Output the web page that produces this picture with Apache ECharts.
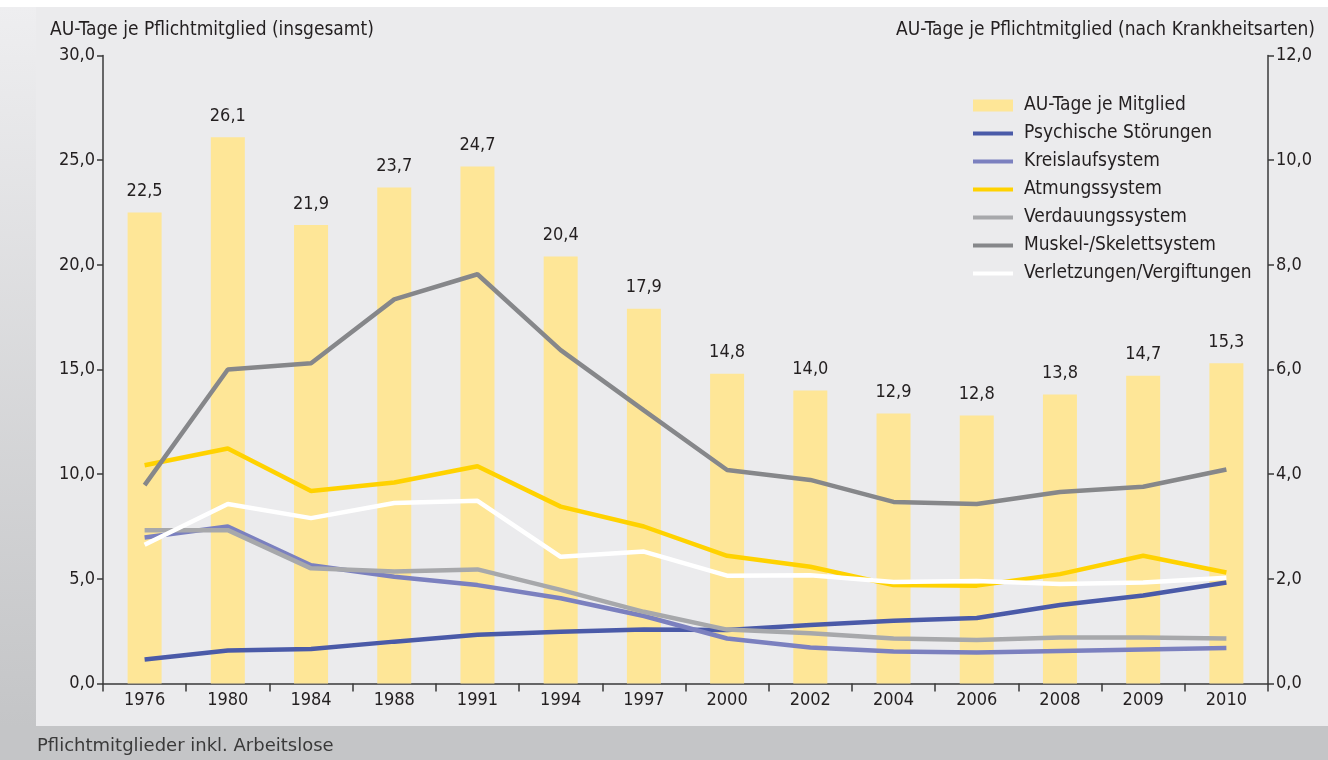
<!DOCTYPE html>
<html>
<head>
<meta charset="utf-8">
<script src="https://cdn.jsdelivr.net/npm/echarts@6/dist/echarts.min.js"></script>
<style>
    html, body { margin: 0; padding: 0; background: #ffffff; }
    #chart { width: 1328px; height: 760px; }
</style>
</head>
<body>
<div id="chart"></div>
<script>
const years = ['1976', '1980', '1984', '1988', '1991', '1994', '1997', '2000', '2002', '2004', '2006', '2008', '2009', '2010'];
const auTage = [22.5, 26.1, 21.9, 23.7, 24.7, 20.4, 17.9, 14.8, 14.0, 12.9, 12.8, 13.8, 14.7, 15.3];
const psychisch = [0.46, 0.63, 0.66, 0.80, 0.93, 0.99, 1.03, 1.02, 1.12, 1.20, 1.25, 1.50, 1.68, 1.93];
const kreislauf = [2.79, 3.00, 2.26, 2.04, 1.88, 1.63, 1.29, 0.86, 0.69, 0.61, 0.59, 0.62, 0.65, 0.68];
const atmung = [4.17, 4.49, 3.68, 3.84, 4.15, 3.38, 3.00, 2.44, 2.23, 1.88, 1.87, 2.09, 2.44, 2.12];
const verdauung = [2.93, 2.93, 2.20, 2.14, 2.18, 1.79, 1.37, 1.03, 0.96, 0.86, 0.83, 0.88, 0.88, 0.86];
const muskel = [3.79, 6.00, 6.12, 7.34, 7.82, 6.37, 5.22, 4.08, 3.89, 3.47, 3.43, 3.66, 3.76, 4.09];
const verletzung = [2.65, 3.43, 3.16, 3.45, 3.49, 2.42, 2.52, 2.06, 2.07, 1.94, 1.96, 1.90, 1.93, 2.02];

const leftTicks = { min: 0, max: 30, interval: 5 };
const rightTicks = { min: 0, max: 12, interval: 2 };

const FONT = "'DejaVu Sans Condensed', 'Liberation Sans Narrow', 'Roboto', sans-serif";
const TEXT = '#231f20';

const fmt = (v) => Number(v).toFixed(1).replace('.', ',');

const lineDefs = [
    { name: 'Psychische Störungen', data: psychisch, color: '#4a5aa8' },
    { name: 'Kreislaufsystem', data: kreislauf, color: '#7b80bf' },
    { name: 'Atmungssystem', data: atmung, color: '#ffd200' },
    { name: 'Verdauungssystem', data: verdauung, color: '#a7a8ab' },
    { name: 'Muskel-/Skelettsystem', data: muskel, color: '#86878a' },
    { name: 'Verletzungen/Vergiftungen', data: verletzung, color: '#ffffff' },
];

const chart = echarts.init(document.getElementById('chart'), null, { renderer: 'canvas' });

const axisLine = { show: true, lineStyle: { color: '#3a3a3a', width: 1.5 } };
const tickStyle = { color: '#3a3a3a', width: 1.5 };

chart.setOption({
    animation: false,
    backgroundColor: '#ffffff',
    textStyle: { fontFamily: FONT },
    graphic: [
        { type: 'rect', z: -10, silent: true, shape: { x: 0, y: 7, width: 1328, height: 753 }, style: { fill: '#c4c5c7' } },
        {
            type: 'rect', z: -10, silent: true, shape: { x: 0, y: 7, width: 36, height: 719 },
            style: {
                fill: new echarts.graphic.LinearGradient(0, 0, 0, 1, [
                    { offset: 0, color: '#eeeef0' },
                    { offset: 1, color: '#c4c5c7' },
                ]),
            },
        },
        { type: 'rect', z: -9, silent: true, shape: { x: 36, y: 7, width: 1292, height: 719 }, style: { fill: '#ebebed' } },
        {
            type: 'text', left: 37, top: 737, silent: true,
            style: { text: 'Pflichtmitglieder inkl. Arbeitslose', fill: '#3a3a3a', font: "18px 'DejaVu Sans', sans-serif" },
        },
    ],
    grid: { left: 103, right: 60, top: 55.5, bottom: 76.5 },
    legend: {
        orient: 'vertical',
        left: 968,
        top: 91,
        itemWidth: 40,
        itemHeight: 12,
        itemGap: 9,
        textStyle: { fontFamily: FONT, fontSize: 19, color: TEXT, padding: [0, 0, 0, 6] },
        data: [
            { name: 'AU-Tage je Mitglied', icon: 'path://M0,0h40v12h-40z' },
            ...lineDefs.map((d) => ({ name: d.name, icon: 'path://M0,0h40v4h-40z' })),
        ],
    },
    xAxis: {
        type: 'category',
        data: years,
        axisLine,
        axisTick: { show: true, length: 8, lineStyle: tickStyle },
        axisLabel: { color: TEXT, fontSize: 18, fontFamily: FONT, margin: 8 },
    },
    yAxis: [
        {
            type: 'value',
            ...leftTicks,
            name: 'AU-Tage je Pflichtmitglied (insgesamt)',
            nameLocation: 'end',
            nameGap: 16,
            nameTextStyle: { color: TEXT, fontSize: 19, fontFamily: FONT, align: 'left', padding: [0, 0, 0, -53] },
            axisLine,
            axisTick: { show: true, length: 6, lineStyle: tickStyle },
            axisLabel: { color: TEXT, fontSize: 18, fontFamily: FONT, margin: 8, formatter: fmt },
            splitLine: { show: false },
        },
        {
            type: 'value',
            ...rightTicks,
            name: 'AU-Tage je Pflichtmitglied (nach Krankheitsarten)',
            nameLocation: 'end',
            nameGap: 16,
            nameTextStyle: { color: TEXT, fontSize: 19, fontFamily: FONT, align: 'right', padding: [0, -47, 0, 0] },
            axisLine,
            axisTick: { show: true, length: 6, lineStyle: tickStyle },
            axisLabel: { color: TEXT, fontSize: 18, fontFamily: FONT, margin: 8, formatter: fmt },
            splitLine: { show: false },
        },
    ],
    series: [
        {
            name: 'AU-Tage je Mitglied',
            type: 'bar',
            data: auTage,
            barWidth: 34,
            itemStyle: { color: '#fee697' },
            label: {
                show: true,
                position: 'top',
                distance: 12,
                color: TEXT,
                fontSize: 18,
                fontFamily: FONT,
                formatter: (p) => fmt(p.value),
            },
        },
        ...lineDefs.map((d) => ({
            name: d.name,
            type: 'line',
            yAxisIndex: 1,
            data: d.data,
            symbol: 'none',
            itemStyle: { color: d.color },
            lineStyle: { color: d.color, width: 4.5 },
        })),
    ],
});
</script>
</body>
</html>
